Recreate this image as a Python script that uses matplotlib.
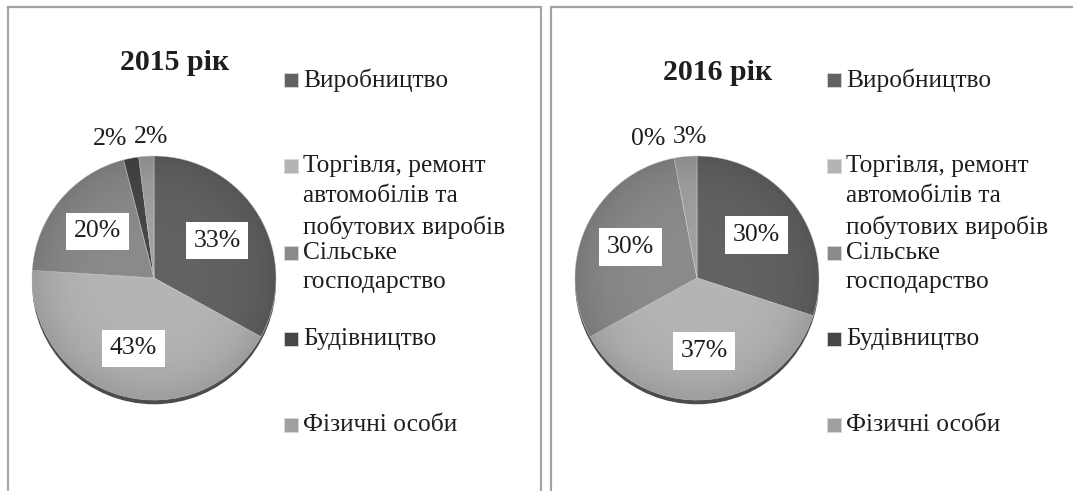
import numpy as np
import matplotlib.pyplot as plt
from matplotlib.patches import Circle, Rectangle

W, H = 1073, 491

sectors = [
    'Виробництво',
    'Торгівля, ремонт\nавтомобілів та\nпобутових виробів',
    'Сільське\nгосподарство',
    'Будівництво',
    'Фізичні особи',
]
share_2015 = [33, 43, 20, 2, 2]
share_2016 = [30, 37, 30, 0, 3]
titles = ['2015 рік', '2016 рік']
sector_colors = ['#626262', '#b4b4b4', '#8a8a8a', '#464646', '#a0a0a0']

plt.rcParams['font.family'] = ['Liberation Serif', 'DejaVu Serif']
TEXT = '#1e1e1e'


def fx(px):
    return px / W


def fy(py):
    return 1 - py / H


def draw_pie(fig, cx, cy, r, shares):
    lim = 1.3
    size = 2 * lim * r
    ax = fig.add_axes([fx(cx - lim * r), fy(cy + lim * r), size / W, size / H])

    # dark rim under the pie gives the tilted 3-D look at the bottom
    ax.add_patch(Circle((0, -0.035), 1.0, facecolor='#4c4c4c', edgecolor='none', zorder=0))

    wedges, _ = ax.pie(shares, colors=sector_colors, startangle=90, counterclock=False,
                       radius=1.0, wedgeprops=dict(edgecolor='#cfcfcf', linewidth=0.4))
    for w in wedges:
        w.set_zorder(1)

    # soft radial shading towards the edge
    g = np.linspace(-1, 1, 300)
    xx, yy = np.meshgrid(g, g)
    rr = np.sqrt(xx ** 2 + yy ** 2)
    shade = np.zeros((300, 300, 4))
    shade[..., 3] = np.clip(0.13 * rr ** 4, 0, 0.13)
    img = ax.imshow(shade, extent=(-1, 1, -1, 1), origin='lower', zorder=2, interpolation='bilinear')
    img.set_clip_path(Circle((0, 0), 1.0, transform=ax.transData))

    total = sum(shares)
    start = 0.0
    outside = []
    for value in shares:
        mid = 90 - 360 * (start + value / 2) / total
        start += value
        a = np.deg2rad(mid)
        if value >= 5:
            d = 0.6
            ax.text(d * np.cos(a), d * np.sin(a), f'{value}%', ha='center', va='center',
                    fontsize=18.5, color=TEXT, zorder=3,
                    bbox=dict(boxstyle='square,pad=0.3', facecolor='white', edgecolor='none'))
        else:
            outside.append((value, a))

    # small slices near the top: labels sit side by side above the pie
    d = 1.16
    min_gap = 0.34
    next_x = None
    for value, a in reversed(outside):
        x = d * np.cos(a)
        if next_x is not None:
            x = min(x, next_x - min_gap)
        next_x = x
        ax.text(x + 0.05, d * np.sin(a), f'{value}%', ha='center', va='center',
                fontsize=18.5, color=TEXT, zorder=3)

    ax.set_xlim(-lim, lim)
    ax.set_ylim(-lim, lim)
    ax.set_aspect('equal')
    ax.axis('off')
    return ax


def draw_legend(fig, x, y0, step):
    for i, (label, color) in enumerate(zip(sectors, sector_colors)):
        y = y0 + i * step
        fig.add_artist(Rectangle((fx(x), fy(y + 7)), 14 / W, 14 / H, transform=fig.transFigure,
                                 facecolor=color, edgecolor='#d8d8d8', linewidth=0.6))
        fig.text(fx(x + 19), fy(y - 11), label, ha='left', va='top', fontsize=18.3,
                 color=TEXT, linespacing=1.45)


fig = plt.figure(figsize=(W / 100, H / 100), dpi=100)
fig.patch.set_facecolor('white')

panels = [
    dict(left=8, right=541, shares=share_2015, title_y=63),
    dict(left=551, right=1090, shares=share_2016, title_y=72),
]

for p, title in zip(panels, titles):
    x0 = p['left']
    fig.add_artist(Rectangle((fx(x0), fy(520)), (p['right'] - x0) / W, 513 / H,
                             transform=fig.transFigure, facecolor='none',
                             edgecolor='#a4a4a4', linewidth=1.6))
    fig.text(fx(x0 + 167), fy(p['title_y']), title, ha='center', va='center',
             fontsize=21.5, fontweight='bold', color=TEXT)
    draw_pie(fig, x0 + 146, 278, 122, p['shares'])
    draw_legend(fig, x0 + 276, 80, 86.3)

fig.savefig('out.png', dpi=100)
